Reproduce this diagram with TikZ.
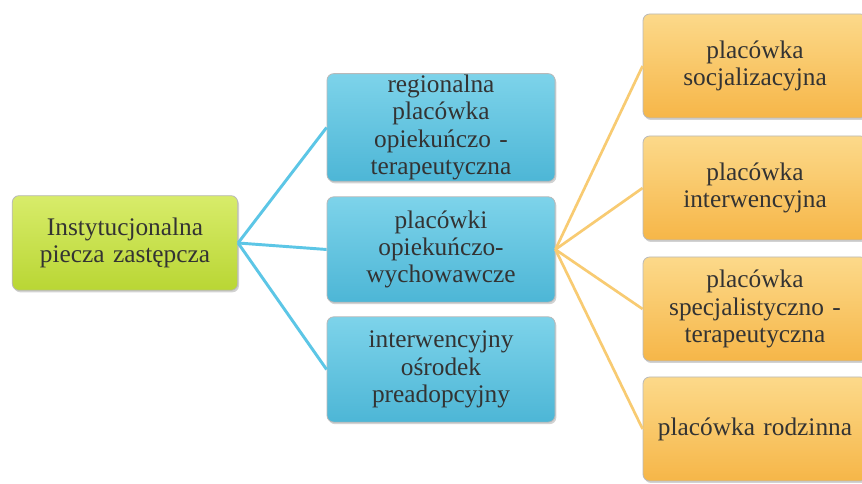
\documentclass[tikz,border=0pt]{standalone}
\usepackage{fontspec}
\setmainfont{Liberation Serif}
\usetikzlibrary{shadows}
\definecolor{gtop}{HTML}{D8EC6A}
\definecolor{gbot}{HTML}{B9D634}
\definecolor{btop}{HTML}{7DD3EA}
\definecolor{bbot}{HTML}{4DB6D6}
\definecolor{otop}{HTML}{FCD98A}
\definecolor{obot}{HTML}{F6B648}
\definecolor{bline}{HTML}{5CC6E6}
\definecolor{oline}{HTML}{F8CB72}
\definecolor{txt}{HTML}{333333}
\begin{document}
\begin{tikzpicture}[x=0.75pt,y=0.75pt,
  box/.style={rounded corners=5pt, draw=gray!55, line width=0.6pt, align=center,
    text=txt, font=\fontsize{19}{20.5}\selectfont, inner sep=1pt,
    drop shadow={shadow xshift=1pt, shadow yshift=-1.5pt, opacity=0.35}},
  gbox/.style={box, top color=gtop, bottom color=gbot, minimum width=169pt, minimum height=71pt, text width=165pt},
  bbox/.style={box, top color=btop, bottom color=bbot, minimum width=171pt, minimum height=79pt, text width=168pt},
  obox/.style={box, top color=otop, bottom color=obot, minimum width=168pt, minimum height=78pt, text width=165pt},
  bcon/.style={draw=bline, line width=2.2pt},
  ocon/.style={draw=oline, line width=2pt}]
\useasboundingbox (0,0) rectangle (862,484);
\fill[white] (0,0) rectangle (862,484);
\node[gbox] (g) at (125,241) {Instytucjonalna\\piecza zastępcza};
\node[bbox] (b1) at (441,356.5) {regionalna\\placówka\\opiekuńczo -\\terapeutyczna};
\node[bbox] (b2) at (441,234.5) {placówki\\opiekuńczo-\\wychowawcze};
\node[bbox] (b3) at (441,114.5) {interwencyjny\\ośrodek\\preadopcyjny};
\node[obox] (o1) at (755,418) {placówka\\socjalizacyjna};
\node[obox] (o2) at (755,296) {placówka\\interwencyjna};
\node[obox] (o3) at (755,175) {placówka\\specjalistyczno\ -\\terapeutyczna};
\node[obox] (o4) at (755,55) {placówka rodzinna};
\draw[bcon] (g.east) -- (b1.west);
\draw[bcon] (g.east) -- (b2.west);
\draw[bcon] (g.east) -- (b3.west);
\draw[ocon] (b2.east) -- (o1.west);
\draw[ocon] (b2.east) -- (o2.west);
\draw[ocon] (b2.east) -- (o3.west);
\draw[ocon] (b2.east) -- (o4.west);
\end{tikzpicture}
\end{document}
